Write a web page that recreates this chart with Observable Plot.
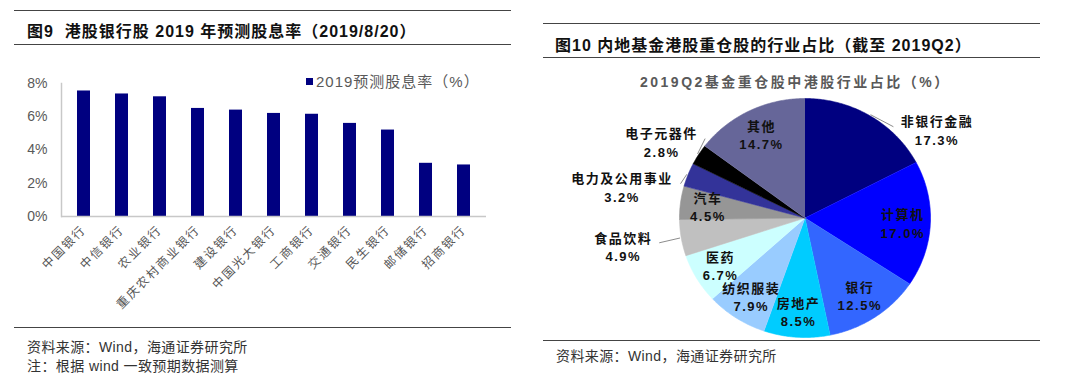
<!DOCTYPE html>
<html><head><meta charset="utf-8">
<script src="https://cdn.jsdelivr.net/npm/d3@7"></script>
<script src="https://cdn.jsdelivr.net/npm/@observablehq/plot@0.6"></script>
<style>
  html, body { margin:0; padding:0; background:#fff; }
  #root { position:relative; width:1080px; height:377px; overflow:hidden; font-family:"Liberation Sans","Noto Sans CJK SC",sans-serif; }
  .rule { position:absolute; height:0; border-top:1.5px solid #444; }
  .txt { position:absolute; white-space:pre; }
  .title { font-size:16px; font-weight:bold; color:#111; letter-spacing:1px; }
  .foot { font-size:14px; color:#333; letter-spacing:0.4px; }
  #bars, #pie { position:absolute; }
  #bars svg text, #pie svg text { font-family:"Liberation Sans","Noto Sans CJK SC",sans-serif; }
  #bars svg g[aria-label="x-axis tick label"] text { letter-spacing:2px; }
  #pie svg g[aria-label="text"] text { letter-spacing:1.5px; }
</style>
</head><body>
<div id="root">
  <div class="rule" style="left:14px;top:10px;width:497px;"></div>
  <div class="txt title" style="left:27px;top:18px;">图9  港股银行股 2019 年预测股息率（2019/8/20）</div>
  <div class="rule" style="left:14px;top:44px;width:497px;"></div>
  <div class="txt" style="left:306px;top:70px;font-size:15px;color:#595959;letter-spacing:1px;"><span style="display:inline-block;width:7px;height:7px;background:#000080;margin-right:3px;vertical-align:2px;"></span>2019预测股息率（%）</div>
  <div id="bars" style="left:0;top:60px;"></div>
  <div class="rule" style="left:14px;top:327px;width:497px;"></div>
  <div class="txt foot" style="left:27px;top:336px;">资料来源：Wind，海通证券研究所</div>
  <div class="txt foot" style="left:27px;top:355px;">注：根据 wind 一致预期数据测算</div>

  <div class="rule" style="left:543px;top:23px;width:497px;"></div>
  <div class="txt title" style="left:555px;top:32px;">图10 内地基金港股重仓股的行业占比（截至 2019Q2）</div>
  <div class="rule" style="left:543px;top:57px;width:497px;"></div>
  <div class="txt" style="left:640px;top:71px;font-size:14px;font-weight:bold;color:#595959;letter-spacing:2.5px;">2019Q2基金重仓股中港股行业占比（%）</div>
  <div id="pie" style="left:540px;top:60px;"></div>
  <div class="rule" style="left:543px;top:340px;width:497px;"></div>
  <div class="txt foot" style="left:556px;top:345px;">资料来源：Wind，海通证券研究所</div>
</div>
<script>
// ---- Data: left chart ----
const banks = ["中国银行","中信银行","农业银行","重庆农村商业银行","建设银行","中国光大银行","工商银行","交通银行","民生银行","邮储银行","招商银行"];
const yields = [7.55, 7.37, 7.2, 6.5, 6.4, 6.2, 6.15, 5.6, 5.2, 3.2, 3.1];
const yTicks = [0, 2, 4, 6, 8];

// ---- Data: right chart ----
const industries = ["非银行金融","计算机","银行","房地产","纺织服装","医药","食品饮料","汽车","电力及公用事业","电子元器件","其他"];
const shares = [17.3, 17.0, 12.5, 8.5, 7.9, 6.7, 4.9, 4.5, 3.2, 2.8, 14.7];

const barData = banks.map((b, i) => ({bank: b, value: yields[i]}));

const barPlot = Plot.plot({
  width: 540, height: 265,
  marginLeft: 61, marginRight: 54, marginTop: 23, marginBottom: 109,
  style: {background: "transparent", color: "#595959", fontSize: "13px"},
  x: {domain: banks, paddingInner: 0.66, paddingOuter: 0.33, label: null},
  y: {domain: [0, 8], label: null},
  marks: [
    Plot.barY(barData, {x: "bank", y: "value", fill: "#000080"}),
    Plot.ruleY([0], {stroke: "#c8c8c8", strokeWidth: 1.5}),
    Plot.frame({anchor: "left", stroke: "#c8c8c8", strokeWidth: 1.5}),
    Plot.axisY({ticks: yTicks, tickFormat: d => d + "%", tickSize: 0, tickPadding: 14, fontSize: 14, label: null}),
    Plot.axisX({tickRotate: -45, tickSize: 0, tickPadding: 11, fontSize: 12, label: null, fill: "#555"})
  ]
});
document.getElementById("bars").appendChild(barPlot);

// ---- Pie ----
const colors = ["#000080","#0000FF","#3366FF","#00CCFF","#99CCFF","#CCFFFF","#C0C0C0","#969696","#333399","#000000","#666699"];
const pieData = industries.map((n, i) => ({name: n, share: shares[i]}));
const arcs = d3.pie().sort(null).value(d => d.share)(pieData);
const pts = [];
for (const a of arcs) {
  const n = Math.max(2, Math.ceil((a.endAngle - a.startAngle) / 0.01));
  pts.push({name: a.data.name, x: 0, y: 0});
  for (let i = 0; i <= n; i++) {
    const t = a.startAngle + (a.endAngle - a.startAngle) * i / n;
    pts.push({name: a.data.name, x: Math.sin(t), y: Math.cos(t)});
  }
}
const RX = 125.5, RY = 119.5;
const outside = {"非银行金融": [67, 14], "食品饮料": [-58, 8], "电力及公用事业": [-66, 12], "电子元器件": [-37, -13]};
const labels = [], links = [];
for (const a of arcs) {
  const m = (a.startAngle + a.endAngle) / 2;
  const name = a.data.name;
  const txt = name + "\n" + a.data.share.toFixed(1) + "%";
  if (outside[name]) {
    const [ox, oy] = outside[name];
    const lx = Math.sin(m) + ox / RX, ly = Math.cos(m) - oy / RY;
    labels.push({x: lx, y: ly, text: txt});
    const hw = name.length * 7.5 + 6;
    const sgn = ox > 0 ? -1 : 1;
    links.push({x1: Math.sin(m) * 1.01, y1: Math.cos(m) * 1.01, x2: lx + sgn * hw / RX, y2: ly + 3 / RY});
  } else {
    labels.push({x: 0.78 * Math.sin(m), y: 0.78 * Math.cos(m), text: txt});
  }
}

const piePlot = Plot.plot({
  width: 540, height: 280,
  marginLeft: 139, marginRight: 150, marginTop: 38, marginBottom: 3,
  style: {background: "transparent"},
  x: {domain: [-1, 1], axis: null},
  y: {domain: [-1, 1], axis: null},
  color: {domain: industries, range: colors},
  marks: [
    Plot.line(pts, {x: "x", y: "y", z: "name", fill: "name", stroke: "name", strokeWidth: 0.6}),
    Plot.link(links, {x1: "x1", y1: "y1", x2: "x2", y2: "y2", stroke: "#8c8c8c", strokeWidth: 1}),
    Plot.text(labels, {x: "x", y: "y", text: "text", fill: "#111", fontWeight: "bold", fontSize: 13, lineHeight: 1.4, textAnchor: "middle"})
  ]
});
document.getElementById("pie").appendChild(piePlot);
</script>
</body></html>
